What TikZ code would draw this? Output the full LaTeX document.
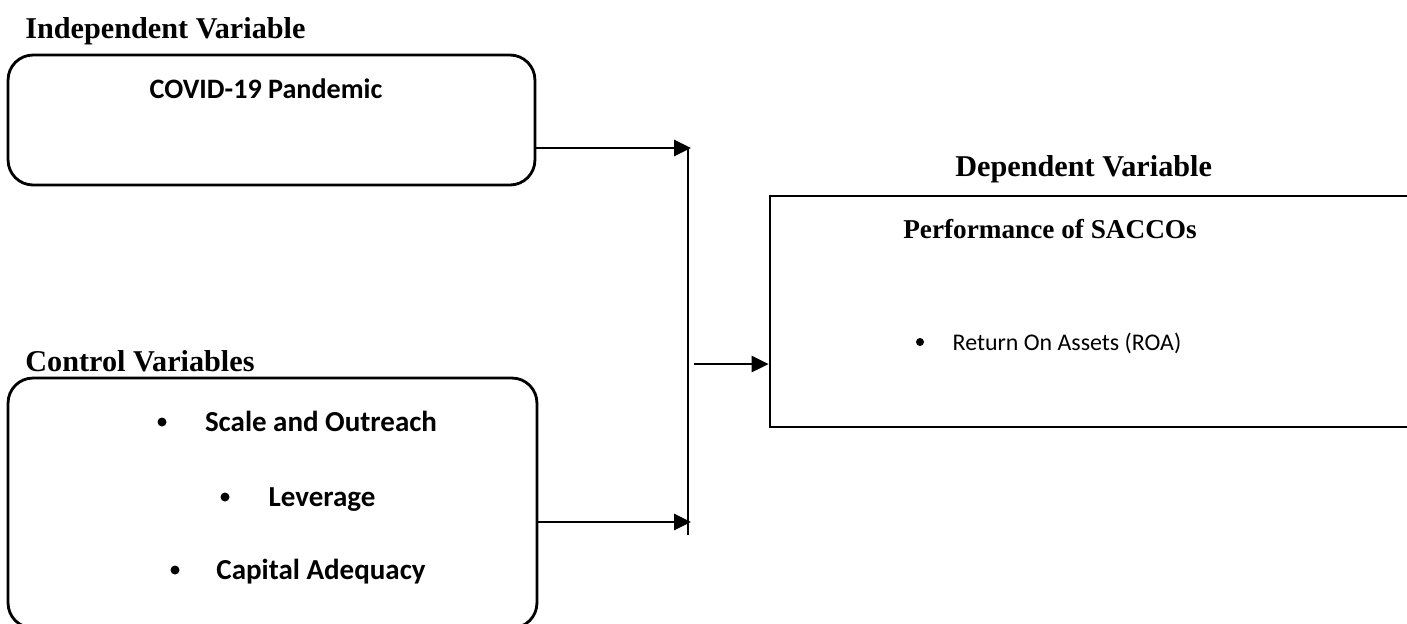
\documentclass[tikz,border=0pt]{standalone}
\usepackage{fontspec}
\setmainfont{Liberation Serif}
\newfontfamily\calibri{Carlito}
\usetikzlibrary{arrows.meta,positioning,calc}

\begin{document}
\begin{tikzpicture}[x=0.02cm, y=-0.02cm,
  title/.style={font=\fontsize{17.2}{20}\selectfont\bfseries, anchor=base west, inner sep=0pt},
  rbox/.style={draw, line width=1.6pt, rounded corners=0.5cm, inner sep=0pt},
  sbox/.style={draw, line width=1.6pt, inner sep=0pt},
  item/.style={font=\calibri\fontsize{16.5}{20}\selectfont\bfseries, anchor=base, inner sep=0pt},
  dot/.style={circle, fill, inner sep=0pt, minimum size=0.18cm},
  arr/.style={-{Triangle[length=0.34cm,width=0.32cm]}, line width=1.6pt}
]
  \useasboundingbox (0,0) rectangle (1407,623);
  % Independent variable
  \node[title] (indtitle) at (25,38) {Independent Variable};
  \node[rbox, minimum width=10.54cm, minimum height=2.6cm] (indep) at (271.5,120) {};
  \node[item, font=\calibri\fontsize{16}{18}\selectfont\bfseries] (covid) at (266,98) {COVID-19 Pandemic};
  % Control variables
  \node[title] (ctltitle) at (25,371) {Control Variables};
  \node[rbox, minimum width=10.58cm, minimum height=5cm] (ctl) at (272.5,503) {};
  \foreach \n/\bx/\tx/\y/\L in {a/162/321/422/Scale and Outreach, b/225/322/497/Leverage, c/175/321/570/Capital Adequacy}{
    \node[dot] (d\n) at (\bx,\y) {};
    \node[item] (t\n) at (\tx,\y+9) {\L};
  }
  % Dependent variable
  \node[title] (deptitle) at (955,176) {Dependent Variable};
  \node[sbox, minimum width=13.2cm, minimum height=4.62cm] (dep) at (1100,311.5) {};
  \node[item, font=\fontsize{15.5}{18}\selectfont\bfseries] (perf) at (1050,238) {Performance of SACCOs};
  \node[dot, minimum size=0.16cm] (droa) at (920,342) {};
  \node[item, font=\calibri\fontsize{13.6}{16}\selectfont] (roa) at (1067,350) {Return On Assets (ROA)};
  % Connectors
  \coordinate (vtop) at (688,148);
  \coordinate (vbot) at (688,535);
  \coordinate (mid) at (694,364);
  \coordinate (low) at (691,522);
  \draw[line width=0.8pt] (vtop) -- (vbot);
  \draw[arr] (indep.east |- vtop) -- (vtop -| low);
  \draw[arr] (ctl.east |- low) -- (low);
  \draw[arr] (mid) -- (mid -| dep.west);
\end{tikzpicture}
\end{document}
